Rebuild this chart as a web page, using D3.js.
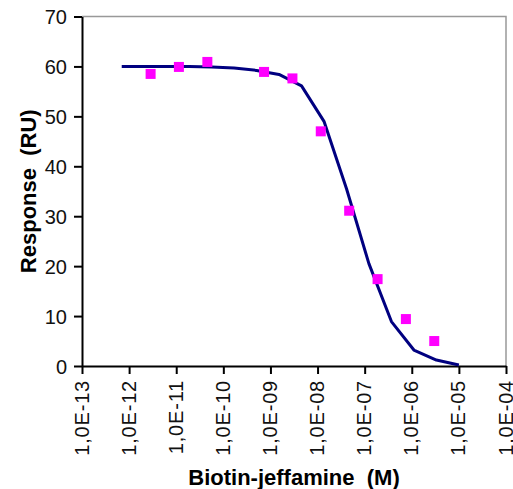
<!DOCTYPE html>
<html>
<head>
<meta charset="utf-8">
<script src="https://cdn.jsdelivr.net/npm/d3@7"></script>
<style>
  body { margin: 0; background: #fff; }
  svg text { font-family: "Liberation Sans", Arial, sans-serif; }
</style>
</head>
<body>
<div id="chart"></div>
<script>
// measured points (concentration in M, response in RU)
var conc = [2.86e-12, 1.14e-11, 4.58e-11, 7.32e-10, 2.93e-9, 1.17e-8, 4.69e-8, 1.88e-7, 7.5e-7, 3.0e-6];
var response = [58.5, 59.9, 60.9, 58.9, 57.6, 47.0, 31.1, 17.4, 9.4, 5.0];

// fitted curve
var fitConc = [6.97e-13, 2.09e-12, 6.27e-12, 1.88e-11, 5.65e-11, 1.69e-10, 5.08e-10, 1.52e-9,
               4.57e-9, 1.37e-8, 4.12e-8, 1.23e-7, 3.70e-7, 1.11e-6, 3.33e-6, 1.0e-5];
var fitResponse = [60.0, 60.0, 60.0, 60.0, 59.9, 59.7, 59.2, 58.4, 56.1, 49.0, 35.5, 20.5, 8.9, 3.2, 1.2, 0.2];

var xTicks = [1e-13, 1e-12, 1e-11, 1e-10, 1e-9, 1e-8, 1e-7, 1e-6, 1e-5, 1e-4];
var xTickLabels = ["1,0E-13", "1,0E-12", "1,0E-11", "1,0E-10", "1,0E-09", "1,0E-08",
                   "1,0E-07", "1,0E-06", "1,0E-05", "1,0E-04"];
var yTicks = [0, 10, 20, 30, 40, 50, 60, 70];

var width = 513, height = 489,
    plotLeft = 82, plotRight = 506, plotTop = 16.5, plotBottom = 366;

var svg = d3.select("#chart").append("svg")
    .attr("width", width)
    .attr("height", height);

var x = d3.scaleLog().domain([1e-13, 1e-4]).range([plotLeft, plotRight]);
var y = d3.scaleLinear().domain([0, 70]).range([plotBottom, plotTop]);

// grey frame on top / right
svg.append("path")
    .attr("d", "M" + plotLeft + "," + plotTop + "H" + plotRight + "V" + plotBottom)
    .attr("fill", "none")
    .attr("stroke", "#999")
    .attr("stroke-width", 1.5);

var xAxis = svg.append("g")
    .attr("transform", "translate(0," + plotBottom + ")")
    .call(d3.axisBottom(x).tickValues(xTicks)
        .tickFormat(function (d, i) { return xTickLabels[i]; })
        .tickSize(8).tickSizeOuter(0));
xAxis.select(".domain").attr("stroke", "#000").attr("stroke-width", 2);
xAxis.selectAll(".tick line").attr("stroke", "#000").attr("stroke-width", 2);
xAxis.selectAll(".tick text")
    .attr("fill", "#111")
    .style("font-size", "20px")
    .style("letter-spacing", "0.8px")
    .attr("transform", "rotate(-90)")
    .attr("text-anchor", "end")
    .attr("x", -14)
    .attr("y", 0)
    .attr("dy", "0.3em");

var yAxis = svg.append("g")
    .attr("transform", "translate(" + plotLeft + ",0)")
    .call(d3.axisLeft(y).tickValues(yTicks).tickSize(8).tickSizeOuter(0));
yAxis.select(".domain").attr("stroke", "#000").attr("stroke-width", 2);
yAxis.selectAll(".tick line").attr("stroke", "#000").attr("stroke-width", 2);
yAxis.selectAll(".tick text")
    .attr("fill", "#111")
    .style("font-size", "20px")
    .attr("x", -15)
    .attr("dy", "0.36em");

// fitted line
var line = d3.line()
    .x(function (d) { return x(d[0]); })
    .y(function (d) { return y(d[1]); });

svg.append("path")
    .datum(d3.zip(fitConc, fitResponse))
    .attr("d", line)
    .attr("fill", "none")
    .attr("stroke", "#000080")
    .attr("stroke-width", 3)
    .attr("stroke-linejoin", "round");

// data squares
var sq = 10;
svg.selectAll("rect.pt")
    .data(d3.zip(conc, response))
    .enter().append("rect")
    .attr("class", "pt")
    .attr("x", function (d) { return x(d[0]) - sq / 2; })
    .attr("y", function (d) { return y(d[1]) - sq / 2; })
    .attr("width", sq)
    .attr("height", sq)
    .attr("fill", "#ff00ff");

// axis titles
svg.append("text")
    .attr("x", (plotLeft + plotRight) / 2)
    .attr("y", 485)
    .attr("text-anchor", "middle")
    .style("font-size", "22px")
    .style("font-weight", "bold")
    .style("white-space", "pre")
    .text("Biotin-jeffamine  (M)");

svg.append("text")
    .attr("transform", "translate(36," + (plotTop + plotBottom) / 2 + ") rotate(-90)")
    .attr("text-anchor", "middle")
    .style("font-size", "22px")
    .style("font-weight", "bold")
    .style("white-space", "pre")
    .text("Response  (RU)");
</script>
</body>
</html>
